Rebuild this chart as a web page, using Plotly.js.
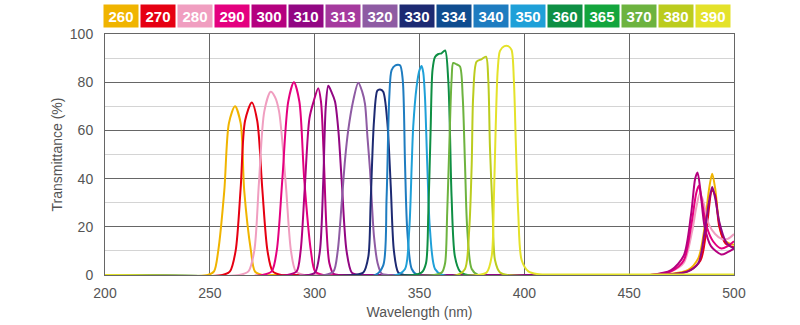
<!DOCTYPE html>
<html>
<head>
<meta charset="utf-8">
<script src="https://cdn.plot.ly/plotly-3.0.1.min.js"></script>
<style>
  html, body { margin: 0; padding: 0; background: #fff; }
  #chart { width: 800px; height: 325px; }
</style>
</head>
<body>
<div id="chart"></div>
<script>
// Legend boxes
const legendLabels = ['260','270','280','290','300','310','313','320','330','334','340','350','360','365','370','380','390'];
const legendColors = ['#F0B400','#E60012','#F09EC0','#E4007F','#B5007F','#920783','#A53A9E','#8E5BA3','#1D2A72','#0F4C8F','#1E7CC0','#1FA0D8','#0E8F44','#13A53D','#6DB33F','#BBCC1E','#E4E22A'];

// Transmittance curves (wavelength nm, transmittance %)
const wl260 = [200,249,252,254,256.9,259.1,262,264.7,266.4,269.6,271.5,275,280,455,460,470,478,483,486,488,489.6,491,492.5,494,496,498,500];
const tr260 = [0,0,1.5,10,35,63,70,63,35,10,1.5,0,0,0,0,0.5,2,7,20,35,42,36,24,17,14,13,12.5];

const wl270 = [200,256,259.6,262.3,264.7,266.8,270,272.6,275,277.5,280,284,290,460,465,478,484,487,489.5,491,493,496,500];
const tr270 = [0,0,1.5,10,36,64,71.6,64,36,10,1.5,0,0,0,0,1.5,6,20,35,33,20,13,11.5];

const wl280 = [200,264,268.4,271.2,273.4,276,279,281,283,286.2,288.7,291,295,300,455,460,470,476,480,482,483.8,485.5,488,491,494,497,500];
const tr280 = [0,0,1.5,10,38,68,76,74,68,38,10,1.5,0,0,0,0,1.5,5,18,28,34,30,21,17,15,15,17];

const wl290 = [200,275,279.5,281.9,284.6,287.4,290.1,292.7,295,298.2,300.2,304,310,455,460,470,476,479.5,482,483.2,484.8,487,490,494,497,500];
const tr290 = [0,0,1.5,10,40,72,80,72,40,10,1.5,0,0,0,0,1.5,6,20,34,37,30,20,14,11,12,14];

const wl300 = [200,287,291.4,293.3,295.2,297.5,299.5,301.7,303,304.3,305.6,307,309,312,318,455,460,470,476,479.5,481.5,482.6,484,486,489,494,497,500];
const tr300 = [0,0,1.5,10,35,65,72,77.5,72,50,20,5,0.5,0,0,0,0,2,8,25,40,42.5,35,20,12,8.5,9.5,11];

const wl310 = [200,297,300.2,302.5,304.1,305.3,306.5,308,309.7,311.3,312.9,315.2,317.7,321,326,460,465,478,483,486,488,489.6,491,493,496,498,500];
const tr310 = [0,0,1,10,39,70,78.5,76,72,60,39,10,1,0,0,0,0,1.5,5,18,30,36.5,32,22,14,12,11];

const wl320 = [200,305,309,311,312.9,314.5,316,318.3,320.8,322.7,324,325.2,326.4,328.3,330,332,335,500];
const tr320 = [0,0,1.5,10,30,48,60,72,79.8,76,71,57,43.6,16,5,0.5,0,0];

const wl330 = [200,319,323.2,325.6,326.7,328.3,329.9,331.2,332.7,334.6,336.3,337.8,339.9,343,500];
const tr330 = [0,0,1,7.6,30,64,76.5,77,76,64,36.6,10,1,0,0];

const wl340 = [200,329,332.7,334.3,335.6,336.7,338.5,340.7,342,343.1,344.2,346.3,349,500];
const tr340 = [0,0,4,32,74,85,87,87,81,46,18,2.5,0,0];

const wl350 = [200,339,343.1,345.1,346.3,347,348.6,350,351,351.8,352.6,353.7,355,357.4,361,500];
const tr350 = [0,0,2.5,18.7,46,61.5,78,85,86.7,84,74,46,18.7,2.5,0,0];

const wl360 = [200,347,351,353.1,354.2,355.3,356.2,357.4,359,360.5,362.2,363.7,364.5,365.3,366.9,369.3,373,500];
const tr360 = [0,0,1,4.9,25.6,60,85,90.5,91.7,92,93.2,81,60,32.5,7.6,1.5,0,0];

const wl370 = [200,357,360.6,362.2,363.2,364.2,365.3,366.1,367.5,369.3,370.6,371.7,372.8,374.9,378,500];
const tr370 = [0,0,1,4.9,25.6,53,81,88,87.5,86.5,74,46,18.7,2.5,0,0];

const wl380 = [200,368,371.7,373.7,374.9,375.6,377.2,379.5,381.7,382.8,383.6,384.9,386,388.4,392,500];
const tr380 = [0,0,2.5,18.7,46,74,88.5,89.5,90.6,81,53,25.6,6.2,1,0,0];

const wl390 = [200,378,382,384.4,385.5,386.3,387.3,388.4,390.5,392.3,393.9,395,396,397.1,398.7,401.9,406,420,500];
const tr390 = [0,0,1,7.6,32.5,60,85,93,95,95,93.4,81,53,25.6,6.2,1.5,0.4,0.2,0.2];

const series = [
  [wl260, tr260, '#F0B400'],
  [wl270, tr270, '#E60012'],
  [wl280, tr280, '#F09EC0'],
  [wl290, tr290, '#E4007F'],
  [wl300, tr300, '#B5007F'],
  [wl310, tr310, '#920783'],
  [wl320, tr320, '#8E5BA3'],
  [wl330, tr330, '#1D2A72'],
  [wl340, tr340, '#1E7CC0'],
  [wl350, tr350, '#1FA0D8'],
  [wl360, tr360, '#0E8F44'],
  [wl370, tr370, '#6DB33F'],
  [wl380, tr380, '#BBCC1E'],
  [wl390, tr390, '#E4E22A']
];

const traces = series.map(s => ({
  x: s[0], y: s[1], type: 'scatter', mode: 'lines',
  line: {color: s[2], width: 2, shape: 'spline', smoothing: 0.8},
  hoverinfo: 'skip', showlegend: false
}));

const plotL = 105, plotR = 734, plotW = plotR - plotL, plotT = 34, plotB = 275, plotH = plotB - plotT;
const annotations = legendLabels.map((lab, i) => ({
  xref: 'paper', yref: 'paper',
  x: (121 + 37 * i - plotL) / plotW,
  y: (plotB - 16) / plotH,
  xanchor: 'center', yanchor: 'middle',
  text: '<b>' + lab + '</b>',
  showarrow: false,
  bgcolor: legendColors[i],
  width: 34, height: 22, borderpad: 0,
  font: {family: 'Liberation Sans, Arial, sans-serif', size: 15, color: '#ffffff'}
}));

const axisFont = {family: 'Liberation Sans, Arial, sans-serif', size: 14, color: '#555555'};
const titleFont = {family: 'Liberation Sans, Arial, sans-serif', size: 14, color: '#555555'};

const layout = {
  width: 800, height: 325,
  margin: {l: plotL, r: 800 - plotR, t: plotT, b: 325 - plotB, pad: 0},
  paper_bgcolor: '#ffffff', plot_bgcolor: '#ffffff',
  showlegend: false,
  xaxis: {
    range: [200, 500], dtick: 50, tick0: 200,
    showgrid: true, gridcolor: '#666666', gridwidth: 1,
    showline: true, linecolor: '#666666', linewidth: 1, mirror: true,
    zeroline: false, ticks: '',
    tickfont: axisFont, ticklabelstandoff: 5,
    title: {text: 'Wavelength (nm)', font: titleFont, standoff: 7}
  },
  yaxis: {
    range: [0, 100], dtick: 20, tick0: 0,
    showgrid: true, gridcolor: '#666666', gridwidth: 1,
    minor: {dtick: 10, showgrid: true, gridcolor: '#d4d4d4', gridwidth: 1, ticks: ''},
    showline: true, linecolor: '#666666', linewidth: 1, mirror: true,
    zeroline: false, ticks: '',
    tickfont: axisFont, ticklabelstandoff: 8,
    title: {text: 'Transmittance (%)', font: titleFont, standoff: 3}
  },
  annotations: annotations
};

Plotly.newPlot('chart', traces, layout, {staticPlot: true, displayModeBar: false});
</script>
</body>
</html>
